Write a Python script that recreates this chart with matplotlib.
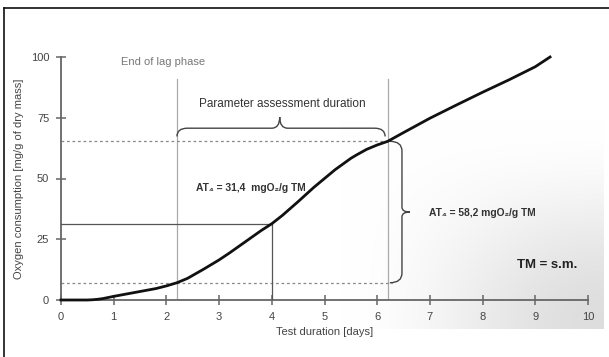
import numpy as np
import matplotlib
matplotlib.use("Agg")
import matplotlib.pyplot as plt
from matplotlib.path import Path
from matplotlib.patches import PathPatch
from matplotlib.lines import Line2D

plt.rcParams['font.family'] = ['Liberation Sans', 'DejaVu Sans']

# oxygen consumption curve
days = [0, 0.5, 0.6, 0.7, 0.8, 1.0, 1.2, 1.5, 1.8, 2.0, 2.2, 2.4, 2.7,
        3.0, 3.2, 3.5, 3.8, 4.0, 4.2, 4.5, 4.8, 5.0, 5.2, 5.5, 5.6, 5.8,
        6.0, 6.2, 6.5, 7.0, 7.5, 8.0, 8.5, 9.0, 9.28]
o2 = [0, 0, 0.1, 0.3, 0.6, 1.5, 2.3, 3.5, 4.7, 5.8, 7.1, 8.9, 12.6,
      16.5, 19.4, 24.0, 28.6, 31.4, 34.8, 40.5, 46.4, 50.0, 53.6, 58.3,
      59.6, 62.0, 63.8, 65.3, 68.9, 74.8, 80.2, 85.5, 90.6, 96.0, 100.0]

lag_end = 2.2
assess_end = 6.2
at4_day = 4.0
at4_value = 31.4
low_level = 7.1
high_level = 65.3

fig = plt.figure(figsize=(6.09, 3.57), dpi=100)

# soft grey shading in the lower right corner (row 0 = top of figure)
H, W = 357, 609
yy, xx = np.mgrid[0:H, 0:W]
tx = np.clip((xx - 340) / 260.0, 0, 1)
ty = np.clip((yy - 120) / 200.0, 0, 1)
tx = tx * tx * (3 - 2 * tx)
ty = ty * ty * (3 - 2 * ty)
shade = tx * ty * 0.13
shade[(yy > 328) | (xx > 603)] = 0
img = np.dstack([1 - shade] * 3)
fig.figimage(img, 0, 0, zorder=0, origin='upper')

ax = fig.add_axes([61 / 609, 57 / 357, 527 / 609, 243 / 357])
ax.set_zorder(1)
ax.patch.set_alpha(0)
ax.set_xlim(0, 10)
ax.set_ylim(0, 100)

ax.plot(days, o2, color='#111111', lw=2.0, clip_on=False, zorder=5,
        solid_joinstyle='round')

# phase markers
for xv in (lag_end, assess_end):
    ax.plot([xv, xv], [0, 91], color='#aaaaaa', lw=0.9, zorder=2)
ax.plot([0, assess_end], [high_level, high_level], color='#888888', lw=0.9,
        ls=(0, (2.2, 2.2)), zorder=2)
ax.plot([0, assess_end + 0.08], [low_level, low_level], color='#888888', lw=0.9,
        ls=(0, (2.2, 2.2)), zorder=2)
ax.plot([0, at4_day], [at4_value, at4_value], color='#555555', lw=0.9, zorder=3)
ax.plot([at4_day, at4_day], [0, at4_value], color='#555555', lw=0.9, zorder=3)

# horizontal brace over the assessment period
mid = 4.15
yb, ytip, yend = 70.7, 75.3, 67.3
verts = [(lag_end, yend), (lag_end, yb), (lag_end + 0.2, yb),
         (mid - 0.15, yb),
         (mid, yb), (mid, ytip),
         (mid, yb), (mid + 0.15, yb),
         (assess_end - 0.25, yb),
         (assess_end - 0.05, yb), (assess_end - 0.05, yend)]
codes = [Path.MOVETO, Path.CURVE3, Path.CURVE3, Path.LINETO,
         Path.CURVE3, Path.CURVE3, Path.CURVE3, Path.CURVE3,
         Path.LINETO, Path.CURVE3, Path.CURVE3]
ax.add_patch(PathPatch(Path(verts, codes), fc='none', ec='#444444', lw=1.0,
                       clip_on=False, zorder=4))

# vertical brace for the consumption difference
xs, xb, xtip = assess_end + 0.04, 6.47, 6.62
ymid = (high_level + low_level) / 2
verts = [(xs, high_level), (xb, high_level), (xb, high_level - 4),
         (xb, ymid + 2),
         (xb, ymid), (xtip, ymid),
         (xb, ymid), (xb, ymid - 2),
         (xb, low_level + 4),
         (xb, low_level), (xs, low_level)]
ax.add_patch(PathPatch(Path(verts, codes), fc='none', ec='#444444', lw=1.0,
                       clip_on=False, zorder=4))

ax.text(1.13, 97.8, 'End of lag phase', fontsize=8, color='#777777',
        va='center', ha='left')
ax.text(4.2, 80.8, 'Parameter assessment duration', fontsize=8.5,
        color='#333333', va='center', ha='center')
ax.text(2.56, 46.0, 'AT\u2084 = 31,4  mgO\u2082/g TM', fontsize=7.4,
        color='#333333', fontweight='bold', va='center', ha='left')
ax.text(6.98, 35.8, 'AT\u2084 = 58,2 mgO\u2082/g TM', fontsize=7.4,
        color='#333333', fontweight='bold', va='center', ha='left')
ax.text(8.66, 14.5, 'TM = s.m.', fontsize=9.5, color='#222222',
        fontweight='bold', va='center', ha='left')

for side in ('top', 'right'):
    ax.spines[side].set_visible(False)
for side in ('left', 'bottom'):
    ax.spines[side].set_color('#666666')
    ax.spines[side].set_linewidth(1.3)

ax.set_xticks(range(0, 11))
ax.set_yticks([0, 25, 50, 75, 100])
ax.tick_params(direction='inout', length=7, width=1.1, color='#666666',
               labelsize=8, labelcolor='#444444', pad=5)
ax.set_xlabel('Test duration [days]', fontsize=8, color='#444444', labelpad=4)
ax.set_ylabel('Oxygen consumption [mg/g of dry mass]', fontsize=8,
              color='#444444', labelpad=5)

# frame lines along the top and left edges
fig.add_artist(Line2D([4 / 609, 1], [1 - 8 / 357, 1 - 8 / 357],
                      transform=fig.transFigure, color='#111111', lw=1.2))
fig.add_artist(Line2D([4 / 609, 4 / 609], [0, 1 - 8 / 357],
                      transform=fig.transFigure, color='#111111', lw=1.2))

fig.savefig('out.png', dpi=100)
